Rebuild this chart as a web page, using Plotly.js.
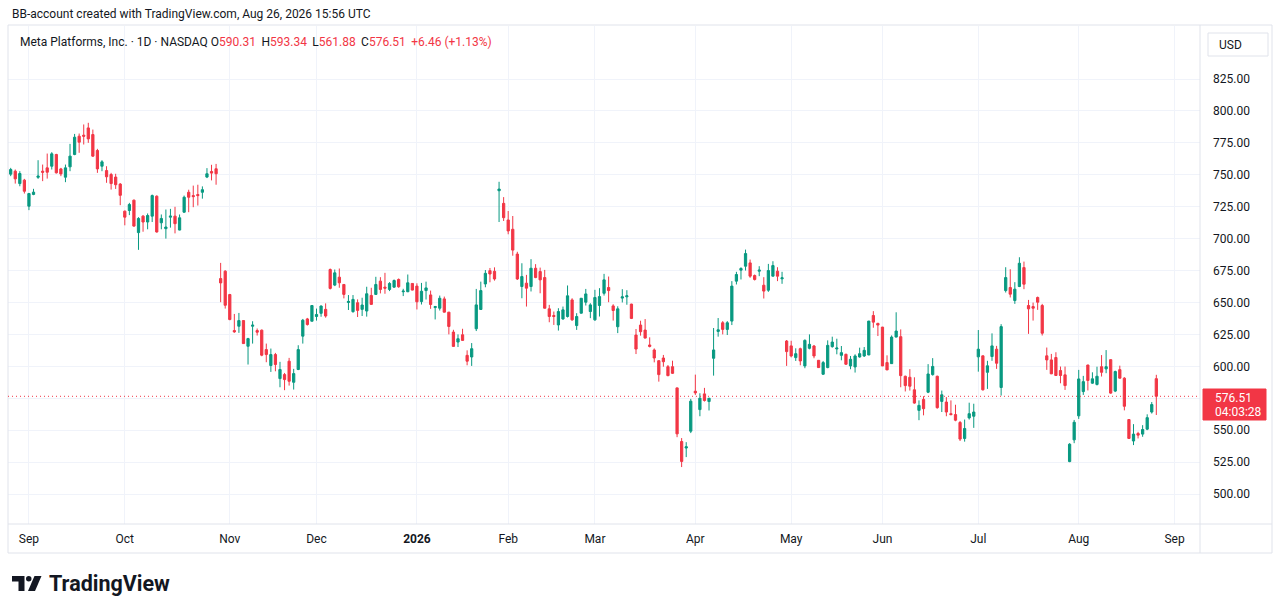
<!DOCTYPE html>
<html>
<head>
<meta charset="utf-8">
<script src="https://cdn.plot.ly/plotly-3.0.1.min.js"></script>
<style>
html,body{margin:0;padding:0;background:#fff;overflow:hidden;}
#chart{width:1281px;height:613px;}
</style>
</head>
<body>
<div id="chart"></div>
<script>
// ---------------- DATA ----------------
const dates = [
'2025-08-26','2025-08-27','2025-08-28','2025-08-29',
'2025-09-02','2025-09-03','2025-09-04','2025-09-05','2025-09-08','2025-09-09','2025-09-10','2025-09-11','2025-09-12','2025-09-15','2025-09-16','2025-09-17','2025-09-18','2025-09-19','2025-09-22','2025-09-23','2025-09-24','2025-09-25','2025-09-26','2025-09-29','2025-09-30',
'2025-10-01','2025-10-02','2025-10-03','2025-10-06','2025-10-07','2025-10-08','2025-10-09','2025-10-10','2025-10-13','2025-10-14','2025-10-15','2025-10-16','2025-10-17','2025-10-20','2025-10-21','2025-10-22','2025-10-23','2025-10-24','2025-10-27','2025-10-28','2025-10-29','2025-10-30','2025-10-31',
'2025-11-03','2025-11-04','2025-11-05','2025-11-06','2025-11-07','2025-11-10','2025-11-11','2025-11-12','2025-11-13','2025-11-14','2025-11-17','2025-11-18','2025-11-19','2025-11-20','2025-11-21','2025-11-24','2025-11-25','2025-11-26','2025-11-28',
'2025-12-01','2025-12-02','2025-12-03','2025-12-04','2025-12-05','2025-12-08','2025-12-09','2025-12-10','2025-12-11','2025-12-12','2025-12-15','2025-12-16','2025-12-17','2025-12-18','2025-12-19','2025-12-22','2025-12-23','2025-12-24','2025-12-26','2025-12-29','2025-12-30','2025-12-31',
'2026-01-02','2026-01-05','2026-01-06','2026-01-07','2026-01-08','2026-01-09','2026-01-12','2026-01-13','2026-01-14','2026-01-15','2026-01-16','2026-01-20','2026-01-21','2026-01-22','2026-01-23','2026-01-26','2026-01-27','2026-01-28','2026-01-29','2026-01-30',
'2026-02-02','2026-02-03','2026-02-04','2026-02-05','2026-02-06','2026-02-09','2026-02-10','2026-02-11','2026-02-12','2026-02-13','2026-02-17','2026-02-18','2026-02-19','2026-02-20','2026-02-23','2026-02-24','2026-02-25','2026-02-26','2026-02-27',
'2026-03-02','2026-03-03','2026-03-04','2026-03-05','2026-03-06','2026-03-09','2026-03-10','2026-03-11','2026-03-12','2026-03-13','2026-03-16','2026-03-17','2026-03-18','2026-03-19','2026-03-20','2026-03-23','2026-03-24','2026-03-25','2026-03-26','2026-03-27','2026-03-30','2026-03-31',
'2026-04-01','2026-04-02','2026-04-06','2026-04-07','2026-04-08','2026-04-09','2026-04-10','2026-04-13','2026-04-14','2026-04-15','2026-04-16','2026-04-17','2026-04-20','2026-04-21','2026-04-22','2026-04-23','2026-04-24','2026-04-27','2026-04-28','2026-04-29','2026-04-30',
'2026-05-01','2026-05-04','2026-05-05','2026-05-06','2026-05-07','2026-05-08','2026-05-11','2026-05-12','2026-05-13','2026-05-14','2026-05-15','2026-05-18','2026-05-19','2026-05-20','2026-05-21','2026-05-22','2026-05-26','2026-05-27','2026-05-28','2026-05-29',
'2026-06-01','2026-06-02','2026-06-03','2026-06-04','2026-06-05','2026-06-08','2026-06-09','2026-06-10','2026-06-11','2026-06-12','2026-06-15','2026-06-16','2026-06-17','2026-06-18','2026-06-22','2026-06-23','2026-06-24','2026-06-25','2026-06-26','2026-06-29','2026-06-30',
'2026-07-01','2026-07-02','2026-07-06','2026-07-07','2026-07-08','2026-07-09','2026-07-10','2026-07-13','2026-07-14','2026-07-15','2026-07-16','2026-07-17','2026-07-20','2026-07-21','2026-07-22','2026-07-23','2026-07-24','2026-07-27','2026-07-28','2026-07-29','2026-07-30','2026-07-31',
'2026-08-03','2026-08-04','2026-08-05','2026-08-06','2026-08-07','2026-08-10','2026-08-11','2026-08-12','2026-08-13','2026-08-14','2026-08-17','2026-08-18','2026-08-19','2026-08-20','2026-08-21','2026-08-24','2026-08-25','2026-08-26'
];

const open = [
750.5,752.8,743.1,745.8,
725.4,734.6,748,752.8,755.4,756.7,765.9,754.6,748.1,756.2,765.9,780.2,781,786.7,781.5,769,756.7,753.3,750.2,748.2,742.7,
721.5,722,730.1,704.7,717.6,713,717.6,733.2,712.4,707.8,716.8,717.6,706.7,720.7,736.3,733.7,734.5,736.3,748.2,752.6,754.7,668.7,674.5,
656.2,628,631.4,635.8,615.7,631.4,628,628.3,613.1,600.6,609.2,590.4,593.5,604,587.5,597.5,623.6,637.1,635.3,
639,641.5,644.6,675.8,663.6,669.8,664.1,650,642.8,649.8,644.6,643.3,655.5,656.3,666.7,662,660.2,662,668,658.4,658.4,664.9,
662.8,650.7,659.3,655.9,646,645.5,652.8,642.4,626.8,619,624.7,608.6,607.3,629.4,644.5,664.5,674.9,674.4,737.5,727.6,
714.6,707.3,687.9,662.5,665.1,662.5,676.8,674.2,669.5,645,639.8,632.4,637.1,639,652,631.9,641.6,650.2,642.9,
636.4,647.6,657.2,661.7,647.3,631,653.4,654.4,648.7,624.5,632.3,628.4,616.7,612.8,604.4,606.5,599.7,599.7,583.1,541.1,536,549.2,
580.5,566.1,578.4,572.4,606.3,627.3,634.1,628.9,635.4,666.7,675.3,678.4,681,671.1,674.5,663.5,659.6,670.6,674.5,668.5,619.8,
616,606.8,613.8,600.3,614.1,615.9,604.7,593.8,599,615.4,613.6,608.6,609.4,600.3,599.5,607.3,608.1,608.9,639.8,633.6,
630.7,602.9,602.1,622.9,623.2,592.2,591.4,581.6,565.5,574.1,579.7,593.5,592.2,572.5,572,562.9,562.2,556,543.5,559.6,560.9,
607.4,608.2,595.3,607.7,613.4,583.4,659.3,661.7,651.5,662.5,677.3,647.6,646.8,653.9,647.6,608.2,605,606.9,596.7,593.3,525.4,542.4,
561.2,580.2,601,586.8,585.8,599.7,598,605.2,580.6,597.4,590.7,558.3,541.5,547.4,546.9,550.8,564.2,590.31
];

const high = [
755.4,754.1,752.8,746.8,
735.8,739,761.4,758,766.6,767.7,766.4,755.4,758,774.2,782,782.3,789.4,790.7,785.4,770.3,761.4,756.7,751.5,750.8,743.5,
722,728,730.6,716.8,718.4,719.7,734.5,733.9,718.9,722.8,723.3,724.9,718.9,733.7,738.3,741.5,742.2,740.9,755.2,757.8,758.5,681,675.3,
656.7,641,641.8,636,622.3,635.3,629.6,628.8,617.8,613.9,610.5,603.5,594.8,606.6,598,616.5,637.1,637.9,647.6,
645.2,647.7,649.3,676.6,675.8,676.6,664.1,655.8,655.8,652.4,653.7,662.3,661.5,670.1,669.8,673.2,665.9,668,668.8,660.7,671.9,664.9,
665,665.3,666.3,659.3,647.3,655.4,654.6,642.6,628.6,625,629.4,612.5,618.2,660.6,666.3,675.4,677,677.5,744.5,732.5,
721.6,717.7,689.7,680.7,671.6,683.9,680,677.3,675.5,648.1,642.9,645.5,646.8,663.3,653.3,641.6,653.5,660.6,649.4,
659.9,661.2,672.4,670.3,648.6,647,660.4,659.6,649,629.2,635.7,637,622.7,614,604.6,608.9,601,604.4,583.3,543.8,540.6,574.5,
593.5,578.9,583.1,575.2,630,637.8,635.4,635.4,666.7,674,677.6,691.4,683.6,671.9,678.4,669.8,680.2,682.3,677.6,674,620.6,
620,614.1,614.6,621.1,625,616.7,604.9,604.2,620.3,623.2,621.6,615.9,609.9,608.1,609.4,614.6,615.1,635.6,643.2,634.1,
630.9,608.6,624.2,642.3,628.9,592.7,597.8,591.4,573.3,576.6,601.7,606.4,592.7,581,575.9,573.3,569.9,557.2,558.3,571.5,570.7,
628.4,608.4,604.3,625.8,616,633,677.6,676,665.9,685.4,682,652,649.9,654.6,648.9,614.7,609.7,611,599.8,599.8,539.8,558,
597.2,592.5,601.2,595.3,599.7,608.8,612.7,605.4,596.6,600.5,591.5,558.5,554.7,548.7,553.9,562.4,572,593.34
];

const low = [
748.9,743.1,741,735.3,
722.3,734,746.8,745,747,754.1,751,748.9,744.2,752.8,765.3,767.2,773.7,775,764,751.5,752.8,743.7,738.4,738.9,726.2,
710.4,718.4,709.3,691.2,705.4,707.3,713,704.7,707.3,700,708.6,704.1,706.5,720.2,720.7,724.6,725.9,731.3,747.4,745.6,742.2,650.2,645.2,
636.1,626.2,626.2,617.5,601.4,617.8,624.1,607.9,603.2,595.6,596.1,583.6,581.3,584.9,581.8,597,617.8,631.9,635.3,
635.8,638.8,638.1,660.2,662.8,661.5,653.2,644.1,642,638.6,639.4,638.9,648.3,656.1,657.1,656.8,658.9,661.5,661.5,655,658.1,659.5,
644.5,648.4,652.3,645,636.7,643.7,642.2,625,615.4,615.1,620.1,600.8,600.3,627.6,644.3,661.9,665.8,667.1,713,713.8,
703.4,686.6,667.6,653.3,646.8,658.6,669,657.2,645.3,634.5,632.4,628,636.4,638.2,635.6,628.5,641.4,647.6,637.7,
635.6,639,655.4,650.2,635.8,626,650,648.2,637,609.6,624,621.9,614.8,603.1,588,599.7,592.2,594,544.5,521.1,528.9,547.7,
577.6,560.9,572.4,565.4,592.7,623.2,625,624.5,632.3,664.1,668,675,669.3,667.2,670.6,653.1,658.3,670.4,666.7,664.6,600.3,
607,604.2,600.8,598.5,613.3,606.3,598.8,593.3,598.5,614.6,609.4,604.7,601.1,597.7,595.1,606.8,607.3,608.7,630.2,623.7,
600.1,597,601.9,622.7,583.6,580.3,581,570.7,557.8,561.6,579,592.7,566.8,564.2,560.9,561.6,557,541.5,541,558.3,551.8,
595.8,581,582.3,604.3,598,577.1,657.8,653.9,648.9,662,660.4,625.4,635.8,644.2,624.1,597.2,593.9,592.6,586.7,581.5,524.9,539.8,
558.8,577.6,581.1,586.3,585,592,594.6,578.5,579.8,590.5,565.5,543.3,538.3,543.5,544.8,550,563,561.88
];

const close = [
754.1,746.8,751,737.1,
735.3,736.4,749,752,752,766.4,751.5,750.7,755.4,764.6,779.4,775.5,780.2,778.1,764.6,754.6,760.1,748.4,743.1,742.2,733.9,
716.8,726.7,709.8,715.8,713,718.1,733.7,705.2,715.8,709.1,717.6,711.7,716.3,732.4,732.4,732.9,733.7,738.3,750.8,751.3,750.8,665.3,647.8,
636.6,627,635.8,617.8,621.7,632.2,626.7,608.7,609.2,609.2,601.4,597.5,589.6,588.3,594.3,613.1,636.1,632.7,647.6,
640.6,647.2,639.4,661,673.2,665.4,656.3,650.8,652.4,643.8,648,656.8,648.5,664.1,660.2,661.2,664.9,667.2,662.3,658.9,665.4,659.7,
650.5,658.8,661.4,648.4,646.8,653.3,642.4,631.2,615.6,621.6,620.3,604,613.8,648.1,659.3,672.8,672.3,668.4,738.8,716.4,
706,691,668.4,670.3,661.2,676.8,669.5,667.7,645.5,639,639,642.9,644.2,655.2,636.4,639,653.3,656.7,648.1,
653.9,654.6,667.7,659.3,643.7,645,654.4,655.2,637.5,613.5,627.1,622.1,615.6,606.5,593.5,603.6,592.7,594.5,547.1,525.5,537,572.7,
579.2,575,573.2,575,612.8,628.6,628.9,634.1,662.8,671.9,676.6,688.3,670.6,668,675.3,658.9,675,678.9,670.6,669.3,611.5,
608.1,609.9,604.2,620.3,617.2,608.1,599,602.9,616.4,619,614.3,610.7,601.6,605.5,608.1,609.9,612.5,635.4,634.6,632.3,
600.3,597.2,622.9,627.6,592.7,584.9,584.4,571.2,569.4,566.8,594,599.9,567.6,577.7,564.2,562.2,557.8,543,551.3,562.9,564.2,
613.4,581.6,600.4,616,602.4,631.1,669.5,656.5,660.4,680.7,664.3,645,645.5,650.2,625.9,605,594.1,592.8,592.8,584.9,539,556.2,
590.1,588,588.9,590.2,592.2,595.3,599.7,579,595.9,590.7,568.7,543.5,546.9,546.1,550.5,559.8,570.05,576.51
];

const holidays = ['2025-09-01','2025-11-27','2025-12-25','2026-01-01','2026-01-19','2026-02-16','2026-04-03','2026-05-25','2026-06-19','2026-07-03'];
const tickDates = ['2025-09-02','2025-10-01','2025-11-03','2025-12-01','2026-01-02','2026-02-02','2026-03-02','2026-04-01','2026-05-01','2026-06-01','2026-07-01','2026-08-03','2026-09-01'];
const tickLabels = ['Sep','Oct','Nov','Dec','<b>2026</b>','Feb','Mar','Apr','May','Jun','Jul','Aug','Sep'];
const priceTicks = [500,525,550,575,600,625,650,675,700,725,750,775,800,825];

const lastPrice = 576.51;
const headerText = 'BB-account created with TradingView.com, Aug 26, 2026 15:56 UTC';
const symbolText = 'Meta Platforms, Inc. · 1D · NASDAQ';
const ohlcLabels = ['O','H','L','C'];
const ohlcValues = ['590.31','593.34','561.88','576.51'];
const changeText = '+6.46 (+1.13%)';
const countdownText = '04:03:28';

// ---------------- STYLE / LAYOUT ----------------
const UP = '#089981', DOWN = '#F23645', TXT = '#131722', BORDER = '#e0e3eb', GRID = '#f0f3fa';
const W = 1281, H = 613;
const PL = 8, PR = 1200, PT = 26, PB = 524;
const pxX = p => (p - PL) / (PR - PL);
const pxY = p => (PB - p) / (PB - PT);
// price <-> pixel calibration: 825 at y=79, 500 at y=494
const k = (494 - 79) / (825 - 500);
const yMax = 825 + (79 - PT) / k;
const yMin = 825 - (PB - 79) / k;

const xs = dates.map(d => d + ' 12:00');

const trace = {
  type: 'candlestick',
  x: xs, open: open, high: high, low: low, close: close,
  increasing: {line: {color: UP, width: 1}, fillcolor: UP},
  decreasing: {line: {color: DOWN, width: 1}, fillcolor: DOWN},
  whiskerwidth: 0,
  hoverinfo: 'skip'
};

const gap = ' \u2009';
let legendHtml = symbolText + ' ';
ohlcLabels.forEach((l, i) => {
  legendHtml += l + '<span style="color:' + DOWN + '">' + ohlcValues[i] + '</span>' + gap;
});
legendHtml += '<span style="color:' + DOWN + '">' + changeText + '</span>';

// price label covering the nearby axis tick (as on the reference)
const priceTickText = priceTicks.map(v => Math.abs(v - lastPrice) < 10 ? '' : v.toFixed(2));

const shapes = [
  {type:'rect', xref:'paper', yref:'paper', x0:pxX(8), x1:pxX(1272), y0:pxY(553), y1:pxY(25), line:{color:BORDER, width:1}, fillcolor:'rgba(0,0,0,0)', layer:'above'},
  {type:'line', xref:'paper', yref:'paper', x0:pxX(1200), x1:pxX(1200), y0:pxY(553), y1:pxY(25), line:{color:BORDER, width:1}},
  {type:'line', xref:'paper', yref:'paper', x0:pxX(8), x1:pxX(1272), y0:pxY(524), y1:pxY(524), line:{color:BORDER, width:1}},
  {type:'line', xref:'paper', yref:'y', x0:0, x1:1, y0:lastPrice, y1:lastPrice, line:{color:DOWN, width:1, dash:'1px,3px'}},
  {type:'rect', xref:'paper', yref:'paper', x0:pxX(1208), x1:pxX(1268), y0:pxY(56), y1:pxY(33), line:{color:BORDER, width:1}, fillcolor:'#ffffff'},
  {type:'rect', xref:'paper', yref:'paper', x0:pxX(1203), x1:pxX(1266), y0:pxY(420), y1:pxY(389), line:{color:DOWN, width:1}, fillcolor:DOWN},
  {type:'path', xref:'paper', yref:'paper', fillcolor:TXT, line:{width:0},
   path:'M '+pxX(12)+' '+pxY(576)+' L '+pxX(24.5)+' '+pxY(576)+' L '+pxX(24.5)+' '+pxY(591)+' L '+pxX(18.5)+' '+pxY(591)+' L '+pxX(18.5)+' '+pxY(581.5)+' L '+pxX(12)+' '+pxY(581.5)+' Z'},
  {type:'circle', xref:'paper', yref:'paper', fillcolor:TXT, line:{width:0}, x0:pxX(26), x1:pxX(31.5), y0:pxY(581.5), y1:pxY(576)},
  {type:'path', xref:'paper', yref:'paper', fillcolor:TXT, line:{width:0},
   path:'M '+pxX(34.5)+' '+pxY(576)+' L '+pxX(41.5)+' '+pxY(576)+' L '+pxX(35)+' '+pxY(591)+' L '+pxX(28)+' '+pxY(591)+' Z'}
];

const annotations = [
  {xref:'paper', yref:'paper', x:pxX(10), y:pxY(14), xanchor:'left', yanchor:'middle', text:headerText, showarrow:false, font:{size:12, color:TXT}},
  {xref:'paper', yref:'paper', x:pxX(18), y:pxY(42), xanchor:'left', yanchor:'middle', text:legendHtml, showarrow:false, font:{size:12, color:TXT}},
  {xref:'paper', yref:'paper', x:pxX(1217), y:pxY(44.5), xanchor:'left', yanchor:'middle', text:'USD', showarrow:false, font:{size:12, color:TXT}},
  {xref:'paper', yref:'paper', x:pxX(1213), y:pxY(397.5), xanchor:'left', yanchor:'middle', text:lastPrice.toFixed(2), showarrow:false, font:{size:12, color:'#ffffff'}},
  {xref:'paper', yref:'paper', x:pxX(1213), y:pxY(411.5), xanchor:'left', yanchor:'middle', text:countdownText, showarrow:false, font:{size:12, color:'#ffffff'}},
  {xref:'paper', yref:'paper', x:pxX(47), y:pxY(583), xanchor:'left', yanchor:'middle', text:'<b>TradingView</b>', showarrow:false, font:{size:21.5, color:TXT}}
];

const layout = {
  width: W, height: H,
  margin: {l: PL, r: W - PR, t: PT, b: H - PB, pad: 0},
  paper_bgcolor: '#ffffff', plot_bgcolor: '#ffffff',
  showlegend: false,
  font: {family: 'Roboto, "Open Sans", "DejaVu Sans", sans-serif', size: 12, color: TXT},
  xaxis: {
    type: 'date',
    rangebreaks: [{bounds: ['sat', 'mon']}, {values: holidays}],
    range: ['2025-08-25 21:50', '2026-09-09 01:40'],
    tickmode: 'array',
    tickvals: tickDates.map(d => d + ' 12:00'),
    ticktext: tickLabels,
    showgrid: true, gridcolor: GRID, gridwidth: 1,
    zeroline: false, showline: false, ticks: '',
    ticklabelstandoff: 6,
    tickfont: {size: 12, color: TXT},
    rangeslider: {visible: false},
    fixedrange: true, automargin: false
  },
  yaxis: {
    side: 'right',
    range: [yMin, yMax],
    tickmode: 'array',
    tickvals: priceTicks,
    ticktext: priceTickText,
    showgrid: true, gridcolor: GRID, gridwidth: 1,
    zeroline: false, showline: false, ticks: '',
    ticklabelstandoff: 12,
    tickfont: {size: 12, color: TXT},
    fixedrange: true, automargin: false
  },
  shapes: shapes,
  annotations: annotations
};

Plotly.newPlot('chart', [trace], layout, {staticPlot: true, displayModeBar: false});
</script>
</body>
</html>
